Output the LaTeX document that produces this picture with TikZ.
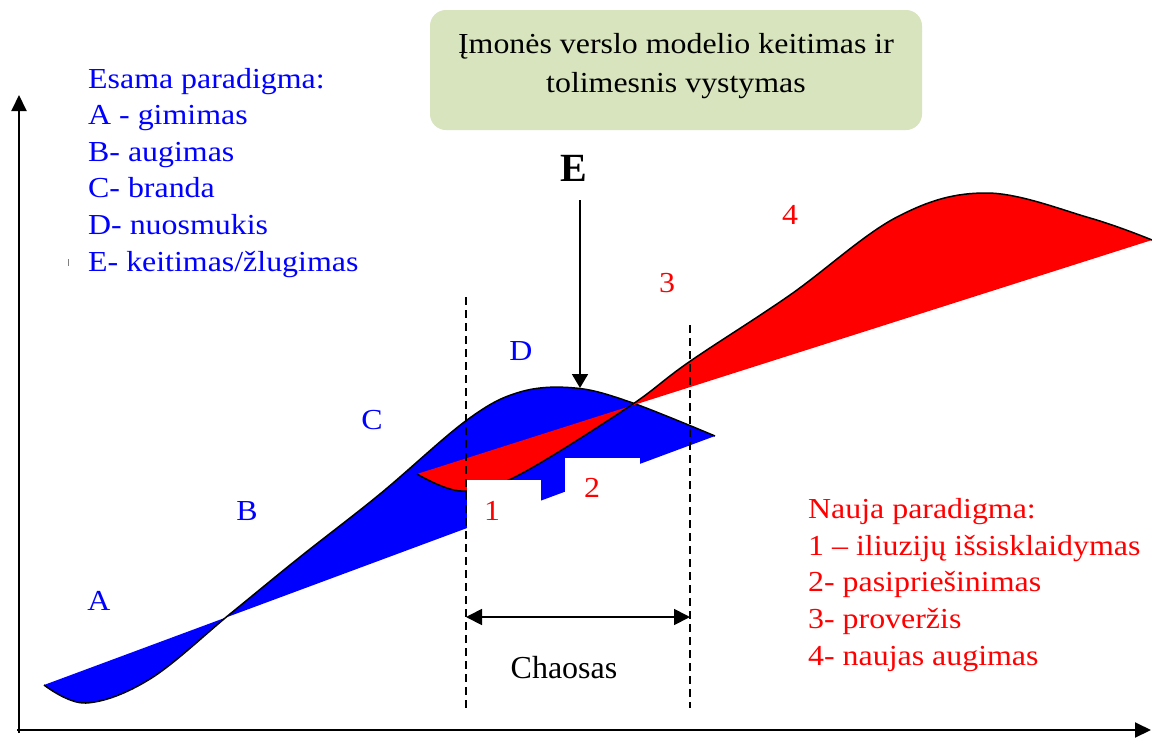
\documentclass[tikz,border=0pt]{standalone}
\usepackage{fontspec}
\setmainfont{Liberation Serif}
\newfontfamily\wideserif[FakeStretch=1.1]{Liberation Serif}
\usetikzlibrary{arrows.meta}
\definecolor{boxgreen}{RGB}{215,228,189}
\tikzset{
  curveline/.style={black, line width=1.5pt, line join=round},
  axisline/.style={black, line width=2pt, -{Triangle[width=15pt,length=16pt]}},
  guide/.style={black, line width=1.3pt, dash pattern=on 8pt off 5pt},
  pointer/.style={black, line width=1.8pt},
  txt/.style={font=\wideserif\fontsize{29}{36.8}\selectfont, inner sep=0pt},
  bluetxt/.style={txt, text=blue, anchor=base west},
  redtxt/.style={txt, text=red, anchor=base west},
  bluelbl/.style={txt, text=blue, anchor=center},
  redlbl/.style={txt, text=red, anchor=center},
  titlebox/.style={draw=none, fill=boxgreen, rounded corners=16pt}
}
\begin{document}
\begin{tikzpicture}[x=1pt,y=-1pt]
\useasboundingbox (0,0) rectangle (1152,737);
\fill[white] (0,0) rectangle (1152,737);

% axes
\coordinate (origin) at (19,733);
\coordinate (ytop) at (19,95);
\coordinate (xleft) at (17,730);
\coordinate (xend) at (1151,730);
\draw[axisline] (origin) -- (ytop);
\draw[axisline] (xleft) -- (xend);

% blue (existing paradigm)
\def\bluecurve{(44,685) (86,703) (150,679) (230,614) (300,557) (380,494) (467,420) (520,392) (575,388) (630,402) (715,436)}
\fill[blue] plot[smooth, tension=0.6] coordinates {\bluecurve} -- cycle;
\draw[curveline] plot[smooth, tension=0.6] coordinates {\bluecurve};

% red (new paradigm)
\def\redcurve{(417,474) (461,491) (515,477) (627,408) (689,362) (790,295) (897,217) (987,193) (1090,218) (1152,240)}
\fill[red] plot[smooth, tension=0.6] coordinates {\redcurve} -- cycle;
\draw[curveline] plot[smooth, tension=0.6] coordinates {\redcurve};

% white label patches
\fill[white] (467,480) rectangle (541,540);
\fill[white] (565,458) rectangle (640,497);

% chaos boundaries
\coordinate (dlatop) at (466,297);
\coordinate (dlabot) at (466,710);
\coordinate (dlbtop) at (690,325);
\coordinate (dlbbot) at (690,708);
\draw[guide] (dlatop) -- (dlabot);
\draw[guide] (dlbtop) -- (dlbbot);

% chaos arrow
\coordinate (chl) at (466,617);
\coordinate (chr) at (690,617);
\draw[pointer, {Triangle[width=16pt,length=16pt]}-{Triangle[width=16pt,length=16pt]}] (chl) -- (chr);
\node[font=\fontsize{32}{36}\selectfont, inner sep=0pt] (chaos) at (564,668) {Chaosas};

% E arrow
\node[font=\bfseries\fontsize{40}{44}\selectfont, inner sep=0pt] (elbl) at (574,168) {E};
\coordinate (etop) at (580,200);
\coordinate (epeak) at (580,388);
\draw[pointer, -{Triangle[width=16pt,length=14pt]}] (etop) -- (epeak);

% title box
\node[titlebox, minimum width=492pt, minimum height=120pt] (title) at (676,70) {};
\node[txt, anchor=base] (titlea) at (676,53) {Įmonės verslo modelio keitimas ir};
\node[txt, anchor=base] (titleb) at (676,92) {tolimesnis vystymas};

% existing paradigm legend
\node[bluetxt] (la) at (88,88) {Esama paradigma:};
\node[bluetxt] (lb) at (88,124.6) {A - gimimas};
\node[bluetxt] (lc) at (88,161.2) {B- augimas};
\node[bluetxt] (ld) at (88,197.8) {C- branda};
\node[bluetxt] (le) at (88,234.4) {D- nuosmukis};
\node[bluetxt] (lf) at (88,271) {E- keitimas/žlugimas};
\coordinate (ticka) at (68,259);
\coordinate (tickb) at (68,266);
\draw[gray, line width=0.8pt] (ticka) -- (tickb);

% new paradigm legend
\node[redtxt] (ra) at (808,518.5) {Nauja paradigma:};
\node[redtxt] (rb) at (808,555.2) {1 – iliuzijų išsisklaidymas};
\node[redtxt] (rc) at (808,591.9) {2- pasipriešinimas};
\node[redtxt] (rd) at (808,628.6) {3- proveržis};
\node[redtxt] (re) at (808,665.3) {4- naujas augimas};

% stage labels
\node[bluelbl] (sa) at (99,601) {A};
\node[bluelbl] (sb) at (247,511) {B};
\node[bluelbl] (sc) at (372,420) {C};
\node[bluelbl] (sd) at (521,351) {D};
\node[redlbl] (s1) at (492,511) {1};
\node[redlbl] (s2) at (592,488) {2};
\node[redlbl] (s3) at (667,283) {3};
\node[redlbl] (s4) at (790,215) {4};
\end{tikzpicture}
\end{document}
